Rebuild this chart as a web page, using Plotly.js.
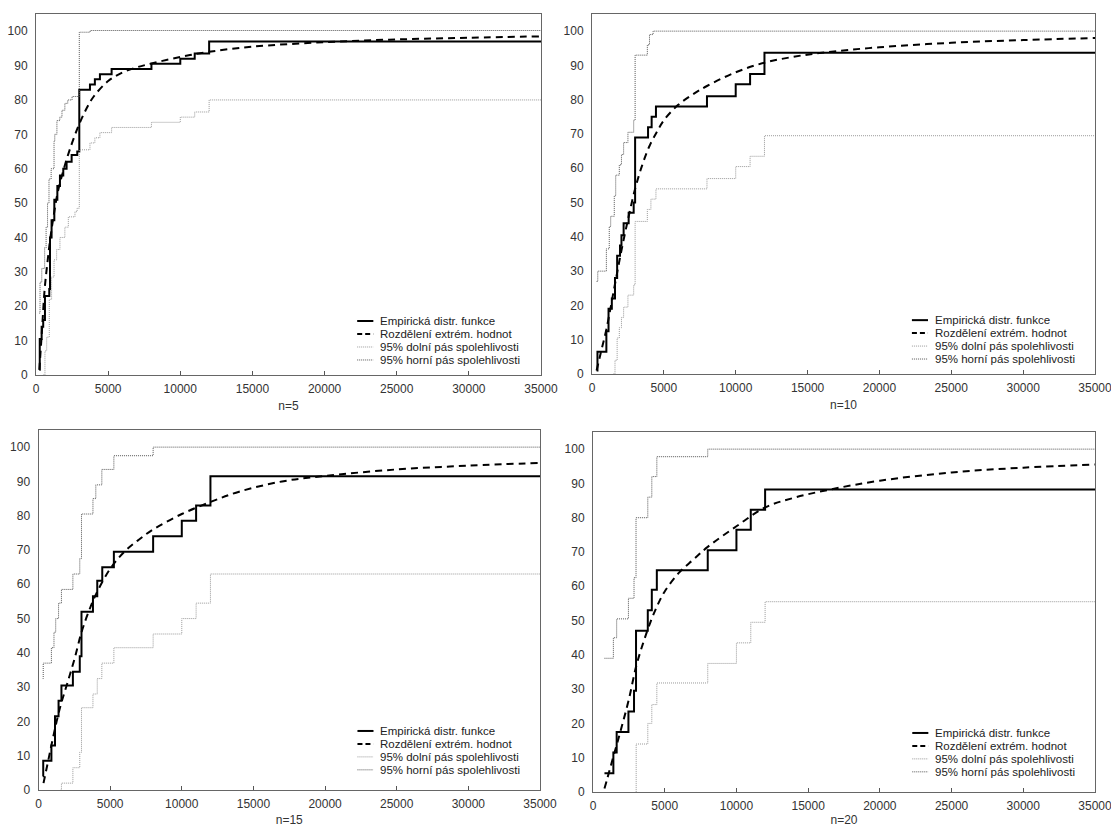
<!DOCTYPE html>
<html><head><meta charset="utf-8">
<script src="https://cdn.plot.ly/plotly-3.0.1.min.js"></script>
<style>html,body{margin:0;padding:0;background:#fff;} #chart{width:1111px;height:827px;}</style>
</head><body><div id="chart"></div>
<script>
// ---------- data ----------
const xTicks = [0, 5000, 10000, 15000, 20000, 25000, 30000, 35000];
const yTicks = [0, 10, 20, 30, 40, 50, 60, 70, 80, 90, 100];
const seriesNames = ['Empirická distr. funkce', 'Rozdělení extrém. hodnot', '95% dolní pás spolehlivosti', '95% horní pás spolehlivosti'];
const panelLabels = ['n=5', 'n=10', 'n=15', 'n=20'];

// n=5
const emp5_x = [230, 260, 390, 500, 620, 920, 970, 1080, 1270, 1480, 1660, 1890, 2120, 2470, 2860, 3000, 3740, 4080, 4430, 5240, 8000, 10000, 11000, 12000, 35000];
const emp5_y = [1.5, 10.5, 14, 16, 23, 25, 40, 45, 51, 55, 58, 60, 62, 64, 65, 83, 84.5, 86, 87.5, 89, 90.5, 92, 93.5, 97, 97];
const fit5_x = [230, 400, 600, 800, 1000, 1250, 1500, 2000, 2500, 3000, 3500, 4000, 5000, 6000, 7000, 8000, 10000, 12000, 15000, 20000, 25000, 30000, 35000];
const fit5_y = [1.5, 12, 25, 33, 40, 47, 53, 61, 67.5, 73, 77.5, 81, 85.5, 88, 89.5, 90.6, 92.5, 94, 95.5, 96.8, 97.6, 98.1, 98.5];
const low5_x = [500, 620, 740, 920, 1080, 1250, 1430, 1660, 2000, 2240, 2700, 2850, 3000, 3740, 4080, 4430, 5240, 8000, 10000, 11000, 12000, 35000];
const low5_y = [0, 7, 11, 22, 28.5, 33.5, 36.5, 40, 43, 46, 47.5, 48.5, 65.5, 67.5, 69, 70.5, 72, 73.5, 75, 76.5, 80, 80];
const up5_x = [230, 280, 400, 600, 700, 800, 900, 1050, 1250, 1300, 1450, 1650, 1800, 2000, 2200, 2500, 3000, 3750, 35000];
const up5_y = [18, 27, 31, 37, 43, 50, 57, 60, 68, 70, 74, 75, 77, 79, 80, 81, 99.7, 100.2, 100.2];

// n=10
const emp10_x = [320, 380, 1000, 1150, 1380, 1600, 1750, 1950, 2050, 2200, 2550, 2900, 3000, 3900, 4150, 4450, 8000, 10000, 11000, 12000, 35000];
const emp10_y = [1, 6.5, 12.5, 19, 22, 28, 34.5, 37.5, 40.5, 44, 47, 50, 69, 72, 75, 78, 81, 84.5, 87.5, 93.7, 93.7];
const fit10_x = [320, 600, 1000, 1500, 2000, 2500, 3000, 3500, 4000, 4500, 5000, 6000, 7000, 8000, 10000, 12000, 14000, 16000, 20000, 25000, 30000, 35000];
const fit10_y = [1, 6, 13, 24, 35, 45, 54, 61, 66.5, 70.5, 74, 78.5, 81.5, 84, 88, 90.8, 92.5, 93.7, 95.3, 96.6, 97.4, 98];
const low10_x = [1480, 1600, 1750, 1900, 2050, 2200, 2500, 2900, 3000, 3850, 4100, 4450, 8000, 10000, 11000, 12000, 35000];
const low10_y = [0, 4, 10.5, 13.5, 16.5, 19.5, 23, 26, 44.5, 48, 51, 54, 57, 60.5, 63.5, 69.5, 69.5];
const up10_x = [320, 400, 1000, 1200, 1300, 1550, 1650, 1900, 2050, 2200, 2500, 2900, 3000, 3850, 4000, 4250, 35000];
const up10_y = [27, 30, 36.5, 43, 46, 52, 58, 61, 64, 67.5, 70.5, 74, 93, 96, 99, 100, 100];

// n=15
const emp15_x = [300, 330, 900, 1150, 1400, 1600, 2400, 2880, 3000, 3800, 4100, 4450, 5260, 8000, 10000, 11000, 12000, 35000];
const emp15_y = [4, 8.5, 13, 21.5, 26, 30.5, 34.5, 39, 52, 56.5, 61, 65, 69.5, 74, 78.5, 83, 91.5, 91.5];
const fit15_x = [350, 700, 1000, 1500, 2000, 2500, 3000, 3500, 4000, 5000, 6000, 7000, 8000, 10000, 12000, 14000, 17000, 20000, 25000, 30000, 35000];
const fit15_y = [2, 9, 15, 24, 31, 38, 46, 52, 57, 64.5, 69.5, 73, 76, 80.5, 84, 87, 90, 91.6, 93.5, 94.6, 95.4];
const low15_x = [1550, 1600, 2400, 2880, 3000, 3800, 4100, 4420, 5260, 8000, 10000, 11000, 12000, 35000];
const low15_y = [0, 2, 6.5, 11, 24, 28, 32.5, 37, 41.5, 45.5, 50, 54.5, 63, 63];
const up15_x = [300, 330, 900, 1080, 1200, 1400, 1600, 2400, 2880, 3000, 3800, 4000, 4420, 5260, 8000, 35000];
const up15_y = [32.5, 37, 41.5, 46, 50, 54.5, 58.5, 63, 67.5, 80.5, 85, 89, 93.5, 97.5, 100, 100];

// n=20
const emp20_x = [800, 1420, 1650, 2470, 2860, 3000, 3820, 4100, 4450, 8000, 10000, 11000, 12000, 35000];
const emp20_y = [5.5, 11.5, 17.5, 23.5, 29.5, 47, 53, 59, 64.7, 70.5, 76.5, 82.3, 88.2, 88.2];
const fit20_x = [800, 1000, 1500, 2000, 2500, 3000, 3500, 4000, 4500, 5000, 6000, 7000, 8000, 10000, 12000, 14000, 16500, 20000, 25000, 30000, 35000];
const fit20_y = [1, 4, 11.5, 19, 27, 36.5, 43.5, 49.5, 54.5, 58.5, 64, 67.8, 71.5, 77.5, 83, 85.8, 88.2, 90.8, 93.2, 94.6, 95.5];
const low20_x = [3000, 3010, 3820, 4100, 4450, 8000, 10000, 11000, 12000, 35000];
const low20_y = [0, 14, 20, 25.5, 31.8, 37.5, 43.5, 49.5, 55.5, 55.5];
const up20_x = [800, 1420, 1650, 2470, 2860, 3000, 3820, 4100, 4450, 8000, 35000];
const up20_y = [39, 45, 50.5, 56.5, 62.5, 80, 86, 92, 97.8, 100, 100];

// ---------- build ----------
const panels = [
  {label: panelLabels[0], emp: [emp5_x, emp5_y], fit: [fit5_x, fit5_y], low: [low5_x, low5_y], up: [up5_x, up5_y]},
  {label: panelLabels[1], emp: [emp10_x, emp10_y], fit: [fit10_x, fit10_y], low: [low10_x, low10_y], up: [up10_x, up10_y]},
  {label: panelLabels[2], emp: [emp15_x, emp15_y], fit: [fit15_x, fit15_y], low: [low15_x, low15_y], up: [up15_x, up15_y]},
  {label: panelLabels[3], emp: [emp20_x, emp20_y], fit: [fit20_x, fit20_y], low: [low20_x, low20_y], up: [up20_x, up20_y]}
];
const W = 1111, H = 827;
// plot-area boxes in px [left, right, top, bottom]
const boxes = [[36, 541, 14, 375], [592, 1095, 14, 374], [38.5, 540, 430, 790], [593, 1095, 432, 792]];
const legendRows = [[0.1496, 0.1136, 0.0776, 0.0416], [0.1496, 0.1136, 0.0776, 0.0416], [0.164, 0.128, 0.092, 0.056], [0.164, 0.128, 0.092, 0.056]];

const styles = [
  {color: '#000', width: 2, dash: 'solid'},
  {color: '#000', width: 2, dash: '7px,5px'},
  {color: '#999', width: 1, dash: '1px,1px'},
  {color: '#555', width: 1, dash: '1px,1px'}
];

const traces = [];
const layout = {
  width: W, height: H,
  margin: {l: 0, r: 0, t: 0, b: 0},
  paper_bgcolor: '#fff', plot_bgcolor: '#fff',
  showlegend: false,
  font: {family: 'Arial, "Liberation Sans", sans-serif', size: 12, color: '#333'},
  annotations: [], shapes: []
};

panels.forEach((p, i) => {
  const k = i === 0 ? '' : String(i + 1);
  const xa = 'x' + k, ya = 'y' + k;
  const b = boxes[i];
  const keys = ['emp', 'fit', 'low', 'up'];
  keys.forEach((key, j) => {
    traces.push({
      type: 'scatter', mode: 'lines',
      x: p[key][0], y: p[key][1],
      xaxis: xa, yaxis: ya,
      name: seriesNames[j],
      line: Object.assign({}, styles[j], {shape: key === 'fit' ? 'spline' : 'hv', smoothing: 1}),
      hoverinfo: 'skip'
    });
  });
  layout['xaxis' + k] = {
    domain: [b[0] / W, b[1] / W], anchor: ya,
    range: [0, 35000], tickvals: xTicks, tickformat: 'd',
    ticks: 'inside', ticklen: 4, tickcolor: '#555', ticklabelstandoff: 3,
    ticklabeloverflow: 'allow',
    showline: true, mirror: true, linecolor: '#666', linewidth: 1,
    showgrid: false, zeroline: false,
    tickfont: {size: 12, color: '#333'},
    title: {text: p.label, font: {size: 12, color: '#333'}, standoff: 6}
  };
  layout['yaxis' + k] = {
    domain: [1 - b[3] / H, 1 - b[2] / H], anchor: xa,
    range: [0, 105], tickvals: yTicks,
    ticks: '', ticklabelstandoff: 5,
    showline: true, mirror: true, linecolor: '#666', linewidth: 1,
    showgrid: false, zeroline: false,
    tickfont: {size: 12, color: '#333'}
  };
  // legend (key samples + texts) inside the plot, lower right
  legendRows[i].forEach((ry, j) => {
    layout.shapes.push({
      type: 'line', xref: xa + ' domain', yref: ya + ' domain',
      x0: 0.636, x1: 0.668, y0: ry, y1: ry,
      line: {color: styles[j].color, width: styles[j].width, dash: j === 1 ? '5px,3px' : styles[j].dash}
    });
    layout.annotations.push({
      xref: xa + ' domain', yref: ya + ' domain', x: 0.677, y: ry,
      xanchor: 'left', yanchor: 'middle', showarrow: false,
      text: seriesNames[j], font: {size: 11.5, color: '#222'}
    });
  });
});

Plotly.newPlot('chart', traces, layout, {displayModeBar: false, staticPlot: true});
</script>
</body></html>
